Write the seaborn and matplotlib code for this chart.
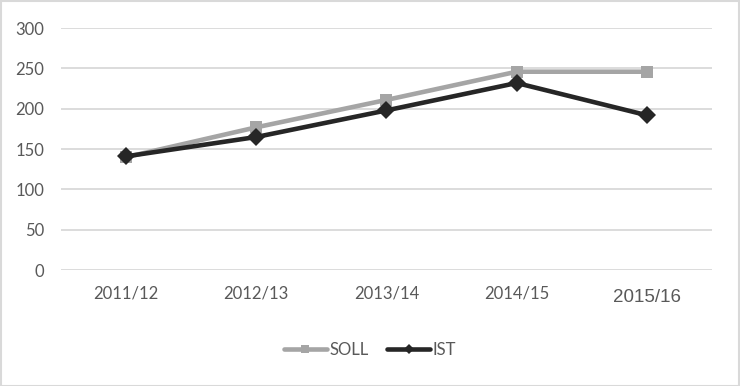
import matplotlib
matplotlib.use("Agg")
import matplotlib.pyplot as plt
import seaborn as sns
import pandas as pd
from matplotlib.patches import Rectangle
from matplotlib.lines import Line2D

categories = ["2011/12", "2012/13", "2013/14", "2014/15", "2015/16"]
soll = [140, 177, 211, 246, 246]
ist = [141, 165, 198, 232, 192]
y_ticks = [0, 50, 100, 150, 200, 250, 300]

sns.set_theme(style="white")
plt.rcParams['font.family'] = ['Lato', 'DejaVu Sans']

df = pd.DataFrame({
    "Jahr": categories * 2,
    "Wert": soll + ist,
    "Serie": ["SOLL"] * len(categories) + ["IST"] * len(categories),
})

fig = plt.figure(figsize=(7.4, 3.86), dpi=100)
ax = fig.add_axes([0.0824, 0.3005, 0.8797, 0.6265])

sns.lineplot(data=df, x="Jahr", y="Wert", hue="Serie", style="Serie",
             palette={"SOLL": "#a5a5a5", "IST": "#262626"},
             markers={"SOLL": "s", "IST": "D"}, dashes=False,
             markersize=9, markeredgewidth=0, linewidth=3.3,
             sort=False, ax=ax, legend=False)

ax.set_xlim(-0.5, len(categories) - 0.5)
ax.set_ylim(0, 300)
ax.set_yticks(y_ticks)
ax.set_yticklabels([str(v) for v in y_ticks], fontsize=12, color="#595959")
ax.set_xticks(range(len(categories)))
ax.set_xticklabels(categories, fontsize=12, color="#595959")
lbls = ax.get_xticklabels()
lbls[-1].set_fontfamily(["Liberation Sans", "DejaVu Sans"])
lbls[-1].set_fontsize(13.5)
lbls[-1].set_y(-0.015)
ax.set_xlabel("")
ax.set_ylabel("")
ax.tick_params(axis="x", length=0, pad=11)
ax.tick_params(axis="y", length=0, pad=12)
ax.grid(axis="y", color="#d9d9d9", linewidth=1.3)
ax.set_axisbelow(True)
for s in ax.spines.values():
    s.set_visible(False)

handles = [
    Line2D([], [], color="#a5a5a5", lw=3.3, marker="s", markersize=6, markeredgewidth=0),
    Line2D([], [], color="#262626", lw=3.3, marker="D", markersize=5, markeredgewidth=0),
]
leg = fig.legend(handles, ["SOLL", "IST"], loc="center", bbox_to_anchor=(0.5, 0.093),
                 ncol=2, frameon=False, fontsize=12, handlelength=2.6,
                 handletextpad=0.15, columnspacing=1.1)
for t in leg.get_texts():
    t.set_color("#595959")

fig.patches.append(Rectangle((0.001, 0.001), 0.997, 0.996, transform=fig.transFigure,
                             fill=False, edgecolor="#d9d9d9", linewidth=1.5))

fig.savefig("out.png", dpi=100)
